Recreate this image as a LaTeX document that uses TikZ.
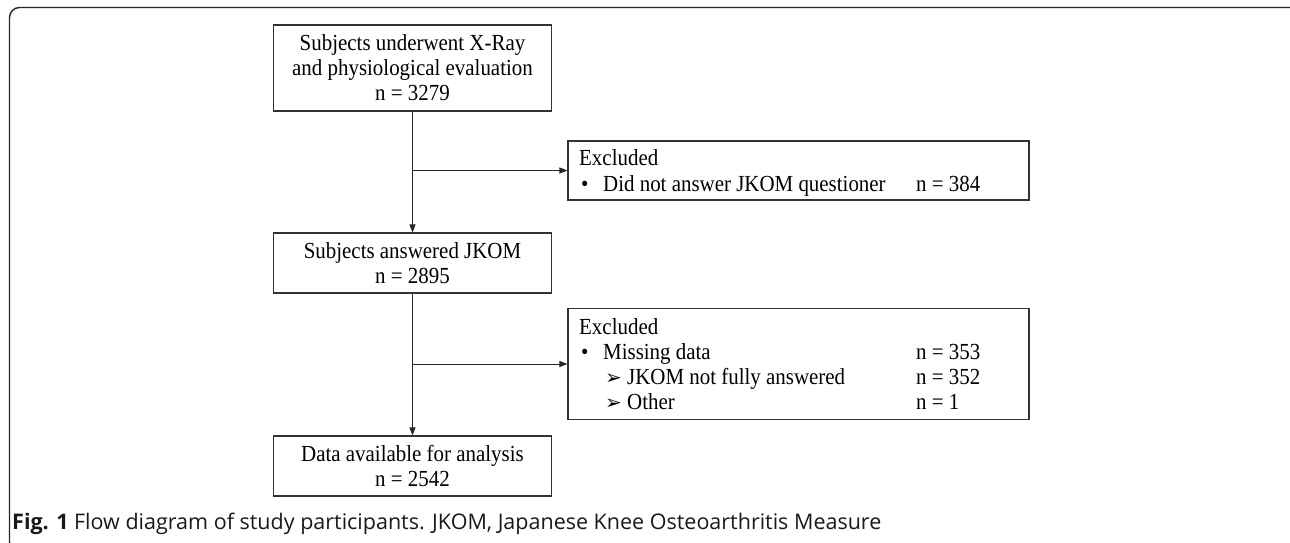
\documentclass[tikz,border=0pt]{standalone}
\usepackage{fontspec}
\setmainfont{Liberation Serif}[FakeStretch=0.91]
\newfontfamily\capfont{Open Sans}
\newfontfamily\symfont{DejaVu Sans}
\usetikzlibrary{arrows.meta}
\begin{document}
\begin{tikzpicture}[x=1pt,y=-1pt,
  box/.style={draw=black!80, line width=1.1pt, inner sep=0pt, font=\fontsize{23}{25}\selectfont},
  txt/.style={font=\fontsize{23}{25}\selectfont, inner sep=0pt, anchor=base west},
  sym/.style={font=\symfont\fontsize{20}{22}\selectfont, inner sep=0pt, anchor=base west},
  arr/.style={draw=black!85, line width=1pt, -{Triangle[length=8pt,width=6pt]}}
]
\useasboundingbox (0,0) rectangle (1290,542);
\draw[line width=1.4pt, rounded corners=10pt, black!85] (9.5,7.5) rectangle (1300,552);

\node[box, minimum width=278pt, minimum height=86pt, align=center] (b1) at (412.5,68) {Subjects underwent X-Ray\\and physiological evaluation\\n = 3279};
\node[box, minimum width=278pt, minimum height=60pt, align=center] (b2) at (412.5,263) {Subjects answered JKOM\\n = 2895};
\node[box, minimum width=278pt, minimum height=60pt, align=center] (b3) at (412.5,466) {Data available for analysis\\n = 2542};

\node[box, minimum width=461pt, minimum height=59pt] (e1) at (798.5,170.5) {};
\node[box, minimum width=461pt, minimum height=111.5pt] (e2) at (798.5,364) {};

\node[txt] (e1h) at (579,165) {Excluded};
\node[txt] (e1b) at (581,191) {•};
\node[txt] (e1t) at (603,191) {Did not answer JKOM questioner};
\node[txt] (e1n) at (916,191) {n = 384};

\node[txt] (e2h) at (579,334) {Excluded};
\node[txt] (e2b) at (581,359) {•};
\node[txt] (e2t) at (603,359) {Missing data};
\node[txt] (e2n) at (916,359) {n = 353};
\node[sym] (e2a1) at (605,384.5) {➢};
\node[txt] (e2t1) at (627,384) {JKOM not fully answered};
\node[txt] (e2n1) at (916,384) {n = 352};
\node[sym] (e2a2) at (605,409.5) {➢};
\node[txt] (e2t2) at (627,409) {Other};
\node[txt] (e2n2) at (916,409) {n = 1};

\draw[arr] (b1.south) -- (b2.north);
\draw[arr] (b2.south) -- (b3.north);
\draw[arr] (b1.south |- e1.west) -- (e1.west);
\draw[arr] (b2.south |- e2.west) -- (e2.west);

\node[anchor=base west, inner sep=0pt, font=\capfont\fontsize{21.5}{24}\selectfont, text=black!90] (cap) at (12,529) {\textbf{Fig. 1} Flow diagram of study participants. JKOM, Japanese Knee Osteoarthritis Measure};
\end{tikzpicture}
\end{document}
